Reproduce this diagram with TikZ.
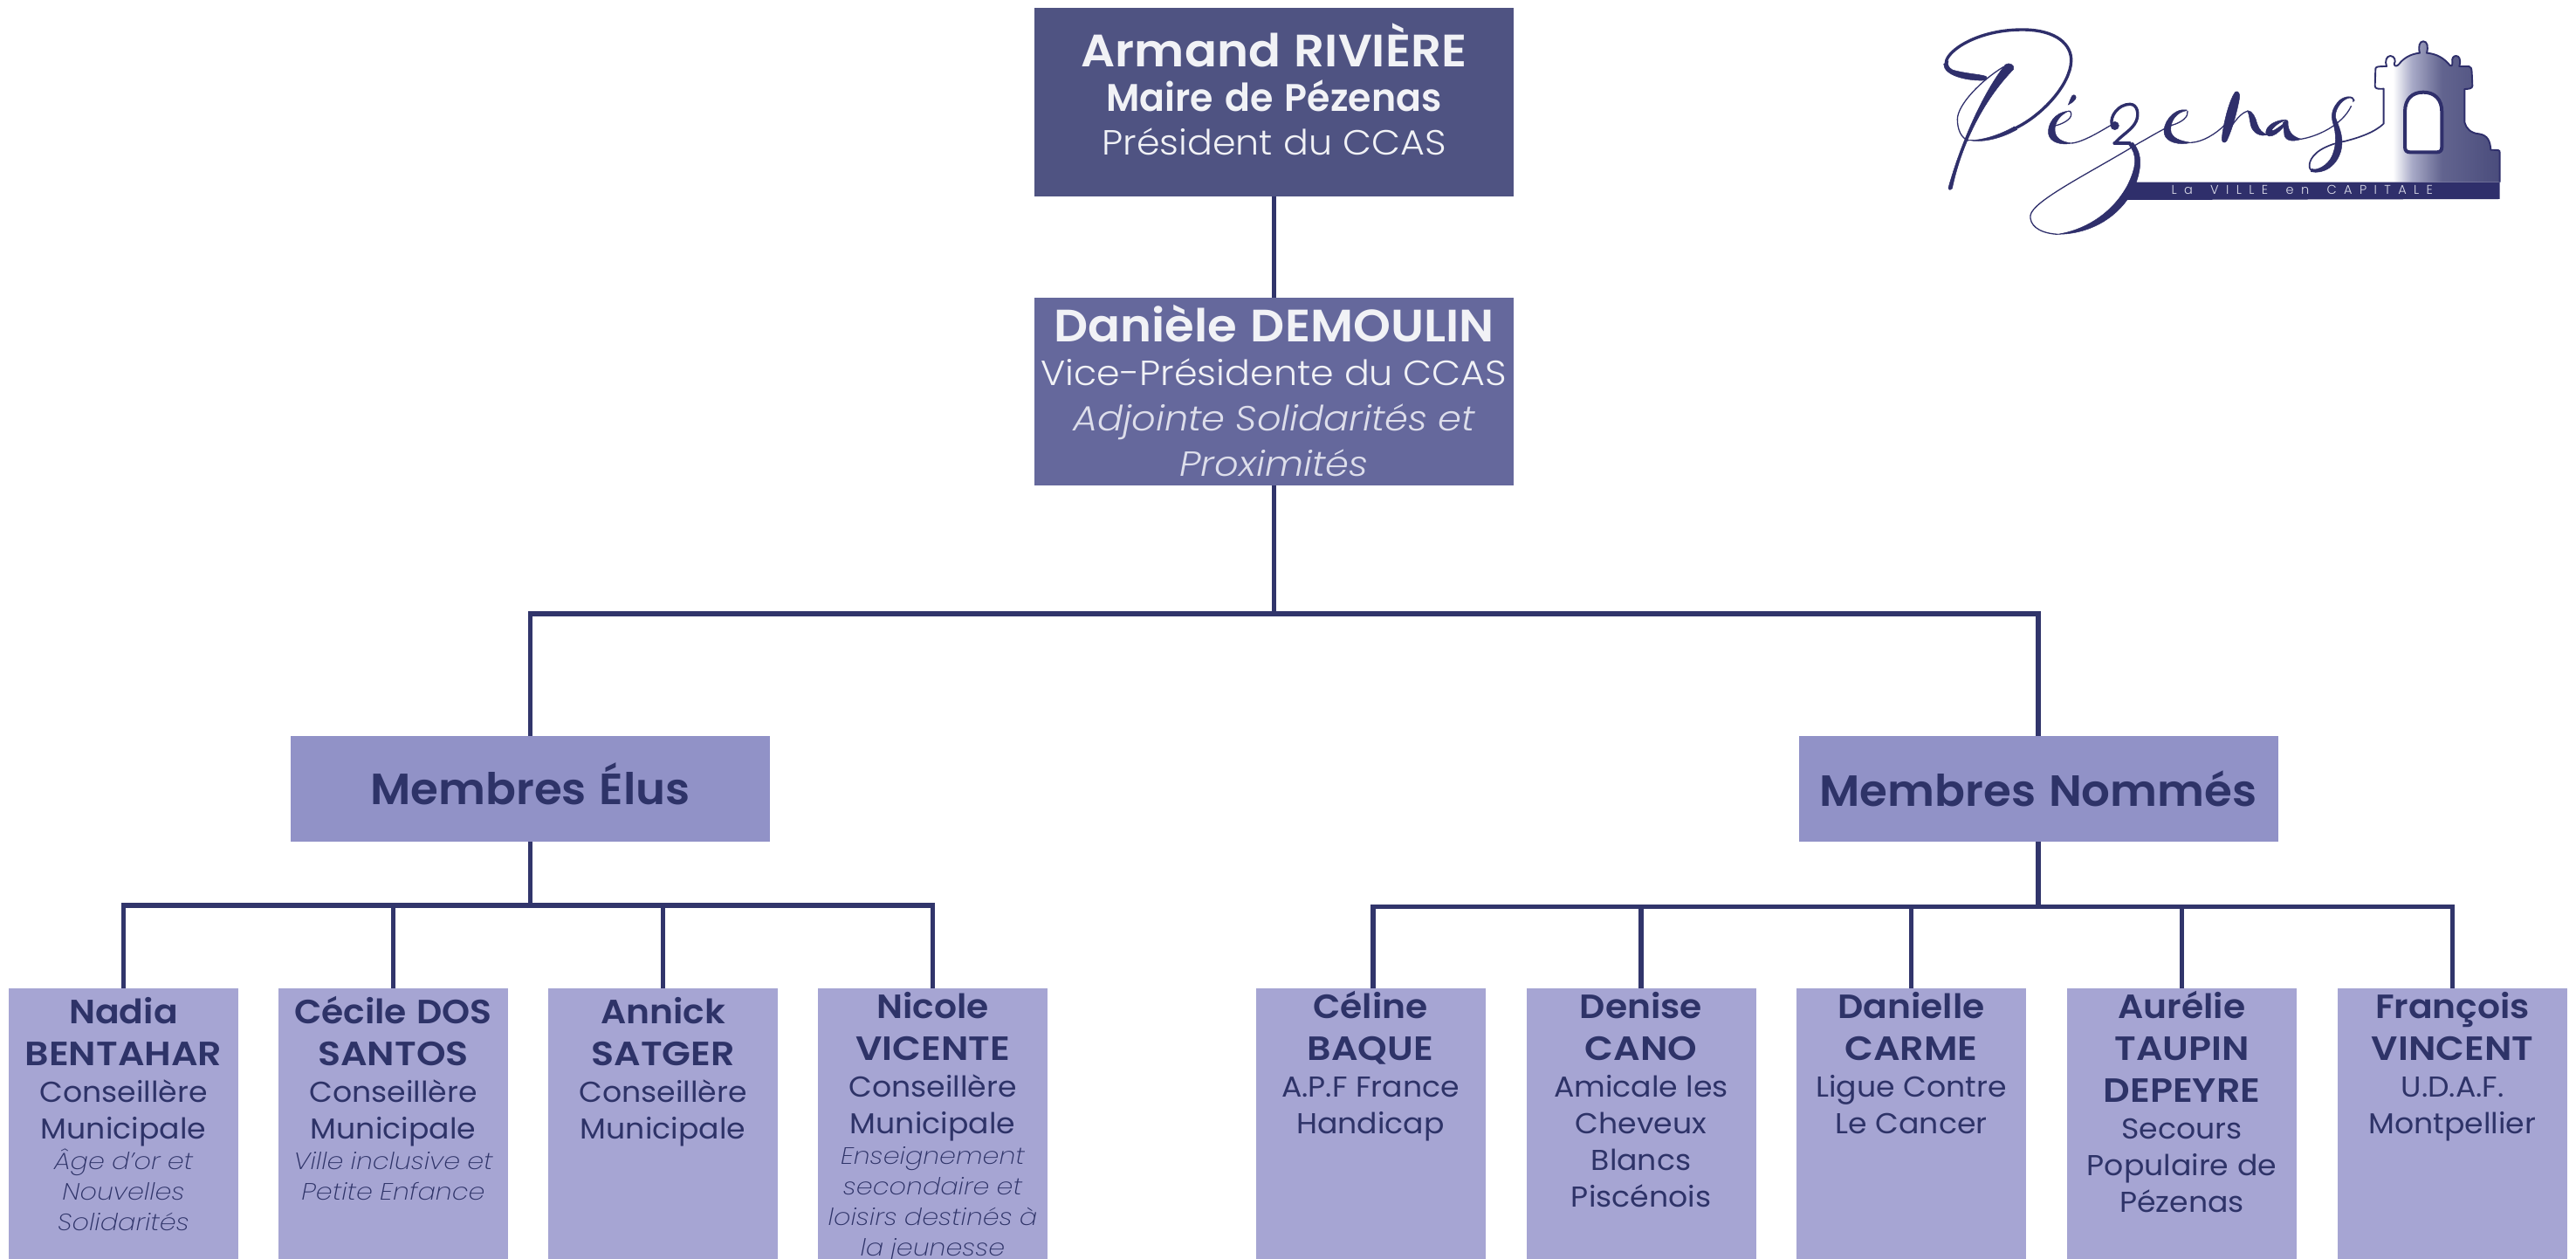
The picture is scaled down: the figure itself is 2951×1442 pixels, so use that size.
\documentclass[tikz,border=0pt]{standalone}
\usepackage{fontspec}
\setmainfont{Poppins}
\newfontfamily\fSB[FakeStretch=1.05]{Poppins SemiBold}
\newfontfamily\fMA[FakeStretch=0.97]{Poppins SemiBold}
\newfontfamily\fNM[FakeStretch=1.11]{Poppins SemiBold}
\newfontfamily\fNL[FakeStretch=1.06]{Poppins SemiBold}
\newfontfamily\fGR[FakeStretch=1.03]{Poppins SemiBold}
\newfontfamily\fRG[FakeStretch=1.05]{Poppins}
\newfontfamily\fLT[FakeStretch=1.07]{Poppins Light}
\newfontfamily\fLI[FakeStretch=1.08]{Poppins Light Italic}
\newfontfamily\fIT[FakeStretch=1.12]{Poppins ExtraLight Italic}
\newfontfamily\fLG[LetterSpace=58]{Poppins Light}
\setlength{\parskip}{0pt}
\definecolor{boxA}{HTML}{4F5382}
\definecolor{boxB}{HTML}{65689C}
\definecolor{boxC}{HTML}{9192C7}
\definecolor{boxD}{HTML}{A6A5D3}
\definecolor{navy}{HTML}{31356B}
\definecolor{logoc}{HTML}{2F2F6B}
\definecolor{ink}{HTML}{2E3368}
\definecolor{pale}{HTML}{F1F2F6}
\definecolor{paleit}{HTML}{DDDEEB}
\definecolor{twa}{HTML}{A9ABC8}
\definecolor{twb}{HTML}{62648F}
\definecolor{twc}{HTML}{4A4C7C}
\pgfdeclarehorizontalshading{towergrad}{100bp}{color(0bp)=(white);color(25bp)=(white);color(29bp)=(white);color(37bp)=(twa);color(50bp)=(twb);color(75bp)=(twc);color(100bp)=(twc)}
\newcommand{\tl}[4]{{#1\fontsize{#2pt}{#3pt}\selectfont\spaceskip=0.3em\xspaceskip=0.3em\lineskiplimit=-200pt\leavevmode\hbox to\linewidth{\hss#4\hss}\par}}
\newcommand{\Nm}[1]{\tl{\fNL}{38.5}{48}{#1}}
\newcommand{\NM}[1]{\tl{\fNM}{38.5}{48}{#1}}
\newcommand{\RG}[1]{\tl{\fRG}{33}{42}{#1}}
\newcommand{\IT}[1]{\tl{\fIT}{27}{35}{#1}}
\tikzset{
 org/.style={rectangle,inner sep=0pt,outer sep=0pt,anchor=north,align=center},
 membre/.style={org,fill=boxD,text=ink,text width=263pt},
 hi/.style={text height=40pt,text depth=270pt},
 lo/.style={text height=34pt,text depth=276pt},
 groupe/.style={org,fill=boxC,text=ink,text width=549pt},
 conn/.style={draw=navy,line width=5.6pt},
 lthin/.style={draw=logoc,line width=1.3pt,line cap=round},
 lmid/.style={draw=logoc,line width=3.4pt,line cap=round,line join=round},
 lfill/.style={fill=logoc,draw=logoc,line width=0.5pt}
}
\begin{document}
\begin{tikzpicture}[x=1pt,y=-1pt]
\useasboundingbox (0,0) rectangle (2951,1442);
% top boxes
\node[org,fill=boxA,text=pale,text width=549pt,text height=67.6pt,text depth=148.4pt] (maire) at (1459.5,9) {%
 \tl{\fSB}{52}{52}{Armand RIVIÈRE}\tl{\fMA}{44}{51.4}{Maire de Pézenas}\tl{\fLT}{40}{50}{Président du CCAS}};
\node[org,fill=boxB,text=pale,text width=549pt,text height=50.4pt,text depth=165pt] (vice) at (1459.5,340.6) {%
 \tl{\fSB}{52}{52}{Danièle DEMOULIN}\tl{\fLT}{40}{50}{Vice-Présidente du CCAS}\tl{\color{paleit}\fLI}{40}{52}{Adjointe Solidarités et}\tl{\color{paleit}\fLI}{40}{52}{Proximités}};
% groups
\node[groupe,text height=78pt,text depth=43pt] (elus) at (607.5,843) {\tl{\fGR}{50}{50}{Membres Élus}};
\node[groupe,text height=80pt,text depth=41pt] (nommes) at (2335,843) {\tl{\fGR}{50}{50}{Membres Nommés}};
% members left
\node[membre,hi] (nadia) at (141.5,1132) {\Nm{Nadia}\NM{BENTAHAR}\RG{Conseillère}\RG{Municipale}\IT{Âge d’or et}\IT{Nouvelles}\IT{Solidarités}};
\node[membre,hi] (cecile) at (450.5,1132) {\Nm{Cécile DOS}\NM{SANTOS}\RG{Conseillère}\RG{Municipale}\IT{Ville inclusive et}\IT{Petite Enfance}};
\node[membre,hi] (annick) at (759.5,1132) {\Nm{Annick}\NM{SATGER}\RG{Conseillère}\RG{Municipale}};
\node[membre,lo] (nicole) at (1068.5,1132) {\Nm{Nicole}\NM{VICENTE}\RG{Conseillère}\RG{Municipale}\IT{Enseignement}\IT{secondaire et}\IT{loisirs destinés à}\IT{la jeunesse}};
% members right
\node[membre,lo] (celine) at (1570,1132) {\Nm{Céline}\NM{BAQUE}\RG{A.P.F France}\RG{Handicap}};
\node[membre,lo] (denise) at (1880,1132) {\Nm{Denise}\NM{CANO}\RG{Amicale les}\RG{Cheveux}\RG{Blancs}\RG{Piscénois}};
\node[membre,lo] (danielle) at (2189.5,1132) {\Nm{Danielle}\NM{CARME}\RG{Ligue Contre}\RG{Le Cancer}};
\node[membre,lo] (aurelie) at (2499.5,1132) {\Nm{Aurélie}\NM{TAUPIN}\NM{DEPEYRE}\RG{Secours}\RG{Populaire de}\RG{Pézenas}};
\node[membre,lo] (francois) at (2809.5,1132) {\Nm{François}\NM{VINCENT}\RG{U.D.A.F.}\RG{Montpellier}};
% connectors
\coordinate (busT) at (1459.5,702.7);
\coordinate (busE) at (607.5,1037);
\coordinate (busN) at (2335,1038.5);
\coordinate (celineTop) at (1573,1132);
\draw[conn] (maire.south) -- (vice.north);
\draw[conn] (vice.south) -- (busT);
\draw[conn] (busT) -| (elus.north);
\draw[conn] (busT) -| (nommes.north);
\draw[conn] (elus.south) -- (busE);
\draw[conn] (nommes.south) -- (busN);
\foreach \m in {nadia,cecile,annick,nicole} {\draw[conn] (busE) -| (\m.north);}
\draw[conn] (busN) -| (celineTop);
\foreach \m in {denise,danielle,aurelie,francois} {\draw[conn] (busN) -| (\m.north);}
% logo : right part, in crop units
\begin{scope}[xshift=2530pt,yshift=-20pt,x=0.33333pt,y=-0.33333pt]
 \def\towerpath{(602,365) -- (602,245) .. controls (585,246) and (572,246) .. (572,235) -- (574,176) .. controls (574,170) and (580,168) .. (612,168) .. controls (605,150) and (612,132) .. (625,132) .. controls (640,132) and (645,150) .. (638,160) .. controls (640,170) and (648,168) .. (655,160) .. controls (670,140) and (695,125) .. (726,122) .. controls (720,100) and (725,82) .. (738,82) .. controls (752,82) and (756,100) .. (750,122) .. controls (785,125) and (810,140) .. (830,165) .. controls (835,170) and (838,165) .. (838,155) .. controls (835,140) and (842,132) .. (851,132) .. controls (862,132) and (868,145) .. (862,168) -- (895,168) .. controls (903,170) and (904,175) .. (905,190) -- (907,235) .. controls (907,244) and (895,246) .. (880,246) -- (880,360) .. controls (885,380) and (900,398) .. (930,400) .. controls (960,405) and (968,425) .. (970,455) -- (995,456) .. controls (1000,456) and (1001,460) .. (1001,465) -- (1001,566)}
 \begin{scope}
  \clip \towerpath -- (602,566) -- cycle;
  \shade[shading=towergrad] (602,70) rectangle (1002,567);
 \end{scope}
 \draw[logoc,line width=1.9pt,line join=round] \towerpath;
 \draw[logoc,line width=4pt,fill=white,line join=round] (675,445) -- (675,325) .. controls (675,280) and (700,257) .. (738,257) .. controls (776,257) and (802,280) .. (802,325) -- (802,445) .. controls (802,458) and (795,463) .. (785,463) -- (692,463) .. controls (682,463) and (675,458) .. (675,445) -- cycle;
 % bar
 \fill[logoc] (-270,566) -- (1001,566) -- (1001,624) -- (-310,627) -- cycle;
 % n
 \fill[lfill] (92,256) .. controls (102,250) and (110,262) .. (106,280) .. controls (95,340) and (75,400) .. (62,425) .. controls (55,434) and (44,428) .. (46,415) .. controls (50,370) and (70,285) .. (92,256) -- cycle;
 \draw[lthin] (60,405) .. controls (85,360) and (115,322) .. (138,322);
 \fill[lfill] (134,320) .. controls (152,320) and (162,345) .. (167,365) .. controls (174,385) and (185,400) .. (205,402) .. controls (180,412) and (152,398) .. (145,370) .. controls (141,350) and (140,335) .. (134,320) -- cycle;
 % a
 \fill[lfill] (268,352) .. controls (235,350) and (198,370) .. (197,395) .. controls (197,410) and (215,412) .. (232,400) .. controls (250,388) and (262,372) .. (268,360) .. controls (250,368) and (232,388) .. (218,390) .. controls (212,388) and (235,362) .. (268,352) -- cycle;
 \fill[lfill] (256,362) .. controls (260,355) and (272,350) .. (273,358) .. controls (272,385) and (282,408) .. (318,418) .. controls (285,430) and (258,422) .. (260,395) -- cycle;
 % s
 \draw[lthin] (310,419) .. controls (370,412) and (460,370) .. (490,305);
 \fill[lfill] (502,285) .. controls (500,268) and (470,268) .. (450,285) .. controls (425,310) and (420,335) .. (427,360) .. controls (440,400) and (440,440) .. (425,475) .. controls (410,510) and (370,528) .. (355,520) -- (352,530) .. controls (395,540) and (445,510) .. (457,450) .. controls (465,405) and (445,370) .. (437,345) .. controls (432,320) and (455,285) .. (480,277) .. controls (492,274) and (498,280) .. (497,290) -- cycle;
 \draw[logoc,line width=1.7pt,line cap=round] (353,525) .. controls (340,515) and (345,480) .. (385,455) .. controls (410,440) and (440,430) .. (470,425) .. controls (520,412) and (570,395) .. (602,365);
 % tagline
 \node[anchor=base west,inner sep=0pt,text=paleit] (tagline) at (-128,608) {\fLG\fontsize{14.5pt}{16pt}\selectfont La \kern8pt VILLE \kern8pt en \kern8pt CAPITALE};
\end{scope}
% logo : left part, in crop units
\begin{scope}[xshift=2210pt,yshift=-20pt,x=0.33333pt,y=-0.33333pt]
 % P
 \fill[lfill] (198,205) .. controls (195,196) and (130,195) .. (80,180) .. controls (66,172) and (62,162) .. (66,150) -- (50,160) .. controls (50,200) and (130,218) .. (185,216) .. controls (195,216) and (200,212) .. (198,205) -- cycle;
 \draw[lmid] (58,155) .. controls (60,115) and (165,42) .. (320,42) .. controls (440,42) and (490,95) .. (488,150) .. controls (485,230) and (390,335) .. (297,380);
 \fill[lfill] (293,375) .. controls (240,405) and (175,425) .. (135,421) .. controls (175,431) and (240,420) .. (302,385) -- cycle;
 \draw[lthin] (135,423) .. controls (110,415) and (97,385) .. (97,350) .. controls (97,300) and (180,215) .. (255,170);
 \fill[lfill] (262,162) .. controls (195,245) and (115,410) .. (66,585) .. controls (66,594) and (76,594) .. (79,588) .. controls (110,440) and (185,285) .. (290,178) .. controls (296,165) and (275,152) .. (262,162) -- cycle;
 % é
 \fill[lfill] (492,268) .. controls (500,262) and (508,272) .. (503,280) .. controls (495,290) and (488,296) .. (478,300) .. controls (482,290) and (486,278) .. (492,268) -- cycle;
 \fill[lfill] (478,322) .. controls (430,325) and (405,370) .. (410,400) .. controls (415,430) and (455,440) .. (490,432) .. controls (455,428) and (432,415) .. (432,385) .. controls (432,360) and (450,335) .. (478,322) -- cycle;
 \draw[lthin] (432,372) .. controls (455,368) and (490,350) .. (488,332) .. controls (487,322) and (482,320) .. (478,322);
 \draw[lthin] (490,432) .. controls (530,428) and (590,390) .. (625,370);
 % z
 \fill[lfill] (638,372) circle (14);
 \draw[lmid] (628,368) .. controls (620,340) and (650,298) .. (690,298) .. controls (715,298) and (722,330) .. (712,355) .. controls (700,385) and (660,405) .. (640,430);
 \draw[logoc,line width=3.4pt,line cap=round] (636,432) -- (690,432);
 \fill[lfill] (700,430) .. controls (735,470) and (730,520) .. (705,585) .. controls (660,680) and (560,745) .. (440,745) .. controls (540,730) and (630,670) .. (680,580) .. controls (715,510) and (715,470) .. (685,436) -- cycle;
 \draw[lthin] (440,745) .. controls (370,740) and (345,710) .. (348,680) .. controls (355,630) and (560,530) .. (720,432) .. controls (760,410) and (800,385) .. (835,370);
 % e
 \fill[lfill] (885,318) .. controls (835,310) and (800,370) .. (808,400) .. controls (815,430) and (860,440) .. (900,430) .. controls (865,425) and (830,415) .. (830,385) .. controls (830,355) and (850,325) .. (885,320) -- cycle;
 \draw[lthin] (835,370) .. controls (870,360) and (892,340) .. (888,322);
 \draw[lthin] (900,430) .. controls (940,428) and (985,400) .. (1015,370);
\end{scope}
\end{tikzpicture}
\end{document}
